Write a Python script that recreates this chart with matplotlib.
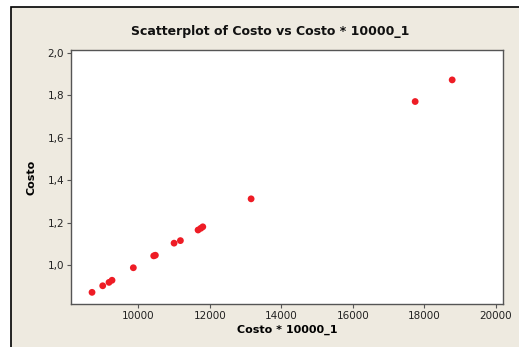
import matplotlib
matplotlib.use('Agg')
import matplotlib.pyplot as plt
from matplotlib.patches import Rectangle

# costo scaled by 10000 vs original costo
costo_scaled = [8705, 9004, 9180, 9264, 9860, 10430, 10476, 10999, 11176,
                11670, 11745, 11802, 13153, 17740, 18775]
costo = [0.871, 0.902, 0.918, 0.928, 0.987, 1.043, 1.046, 1.103, 1.115,
         1.165, 1.173, 1.180, 1.312, 1.771, 1.873]

x_ticks = [10000, 12000, 14000, 16000, 18000, 20000]
y_ticks = [1.0, 1.2, 1.4, 1.6, 1.8, 2.0]

W, H = 519, 347
fig = plt.figure(figsize=(W / 100, H / 100), dpi=100)
fig.patch.set_facecolor('white')

# beige panel with black border
panel = Rectangle((11 / W, -0.05), 1.1, 1 - 7 / H + 0.05, transform=fig.transFigure,
                  facecolor='#eeeae0', edgecolor='black', linewidth=1.2, zorder=-10)
fig.patches.append(panel)

ax = fig.add_axes([71 / W, 1 - 304 / H, (503 - 71) / W, (304 - 50) / H])
ax.set_zorder(5)
ax.set_facecolor('white')
ax.scatter(costo_scaled, costo, s=24, color='#ee1c25', edgecolors='none', zorder=3)

ax.set_xlim(8117, 20196)
ax.set_ylim(0.816, 2.014)
ax.set_xticks(x_ticks)
ax.set_xticklabels([str(t) for t in x_ticks])
ax.set_yticks(y_ticks)
ax.set_yticklabels([('%.1f' % t).replace('.', ',') for t in y_ticks])
ax.tick_params(direction='out', length=3, width=0.8, colors='#555555',
               labelcolor='#222222', labelsize=7.5, pad=2)
for s in ax.spines.values():
    s.set_color('#555555')
    s.set_linewidth(1.0)

ax.set_xlabel('Costo * 10000_1', fontsize=8, fontweight='bold', labelpad=3)
ax.set_ylabel('Costo', fontsize=8, fontweight='bold', labelpad=8)
fig.text(0.52, 1 - 32 / H, 'Scatterplot of Costo vs Costo * 10000_1',
         ha='center', va='center', fontsize=9, fontweight='bold', color='#111111')

fig.savefig('out.png', dpi=100)
